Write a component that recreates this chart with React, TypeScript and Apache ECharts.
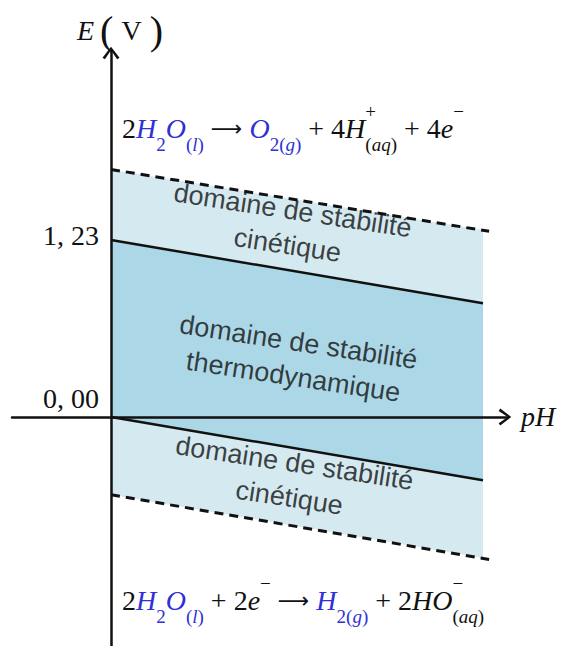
import React, { useEffect, useRef } from 'react';
import * as echarts from 'echarts';

// Water stability lines, E (V) versus pH
const oxygenLine = [[0, 1.23], [14, 0.79]];
const hydrogenLine = [[0, 0], [14, -0.44]];
const upperKineticLine = [[0, 1.72], [14.23, 1.29]];
const lowerKineticLine = [[0, -0.54], [14.23, -0.99]];

// Bands: [pH start, pH end, upper at start, upper at end, lower at start, lower at end]
const kineticBand = [0, 14, 1.72, 1.3, -0.54, -0.98];
const thermoBand = [0, 14, 1.23, 0.79, 0, -0.44];

const tickValues = [0, 1.23];

const domainNames = [
  'domaine de stabilité\ncinétique',
  'domaine de stabilité\nthermodynamique',
  'domaine de stabilité\ncinétique',
];
const domainAnchors = [
  [6.74, 1.315],
  [6.96, 0.4],
  [6.81, -0.44],
];

const SERIF = '"Liberation Serif", "Times New Roman", serif';
const SANS = '"Liberation Sans", Arial, sans-serif';
const INK = '#111111';
const BLUE = '#3030d6';
const CHEVRON = 'path://M10,0 L20,13 L17.2,14.8 L10,4.2 L2.8,14.8 L0,13 Z';

const X_MIN = -3.726;
const X_MAX = 14.941;
const GRID_LEFT = 12;
const GRID_RIGHT = 69;
const WIDTH = 577;

const eqRich = (size: number) => {
  const sub = Math.round(size * 0.68);
  const base = { fontFamily: SERIF, fontSize: size, lineHeight: 52, fill: INK };
  const subBase = { fontFamily: SERIF, fontSize: sub, lineHeight: 40, verticalAlign: 'bottom' };
  const supBase = { fontFamily: SERIF, fontSize: sub, lineHeight: 16, verticalAlign: 'top', fill: INK };
  return {
    n: base,
    ni: { ...base, fontStyle: 'italic' },
    bi: { ...base, fontStyle: 'italic', fill: BLUE },
    ar: { fontFamily: '"DejaVu Sans", sans-serif', fontSize: 22, lineHeight: 52, fill: INK },
    bs: { ...subBase, fill: BLUE },
    bsi: { ...subBase, fill: BLUE, fontStyle: 'italic' },
    ns: { ...subBase, fill: INK },
    nsi: { ...subBase, fill: INK, fontStyle: 'italic' },
    sup: { ...supBase, width: 0 },
    sup2: { ...supBase },
  };
};

const oxidation =
  '{n|2}{bi|H}{bs|2}{bi|O}{bs|(}{bsi|l}{bs|)}{n| }{ar|⟶}{n| }{bi|O}{bs|2(}{bsi|g}{bs|)}{n| + 4}{ni|H}{sup|+}{ns|(}{nsi|aq}{ns|)}{n| + 4}{ni|e}{sup2|−}';
const reduction =
  '{n|2}{bi|H}{bs|2}{bi|O}{bs|(}{bsi|l}{bs|)}{n| + 2}{ni|e}{sup2|−}{n| }{ar|⟶}{n| }{bi|H}{bs|2(}{bsi|g}{bs|)}{n| + 2}{ni|HO}{sup|−}{ns|(}{nsi|aq}{ns|)}';

export default function App() {
  const ref = useRef<HTMLDivElement>(null);

  useEffect(() => {
    document.body.style.margin = '0';
    const chart = echarts.init(ref.current!, null, { renderer: 'svg' });

    const bandColors = ['#d5e9f0', '#acd7e6'];
    const axisLine = (onZero: boolean) => ({
      onZero,
      symbol: ['none', CHEVRON],
      symbolSize: [17, 14],
      symbolOffset: [0, -3],
      lineStyle: { color: INK, width: 2.5 },
    });

    // y labels sit beside the vertical axis drawn at pH = 0, not at the grid edge
    const plotWidth = WIDTH - GRID_LEFT - GRID_RIGHT;
    const zeroShift = ((0 - X_MIN) / (X_MAX - X_MIN)) * plotWidth;

    chart.setOption({
      animation: false,
      grid: { left: GRID_LEFT, right: GRID_RIGHT, top: 50, bottom: 0, containLabel: false, outerBoundsMode: 'none' },
      xAxis: {
        type: 'value',
        min: X_MIN,
        max: X_MAX,
        z: 10,
        axisLine: axisLine(true),
        axisTick: { show: false },
        axisLabel: { show: false },
        splitLine: { show: false },
      },
      yAxis: {
        type: 'value',
        min: -1.591,
        max: 2.55,
        z: 10,
        axisLine: axisLine(true),
        axisTick: { show: false },
        splitLine: { show: false },
        axisLabel: {
          customValues: tickValues,
          margin: 12 - zeroShift,
          formatter: (v: number) =>
            v === 0 ? `{z|${v.toFixed(2).replace('.', ', ')}}` : `{o|${v.toFixed(2).replace('.', ', ')}}`,
          rich: {
            z: { fontFamily: SERIF, fontSize: 28, color: INK, padding: [0, 0, 38, 0] },
            o: { fontFamily: SERIF, fontSize: 28, color: INK, padding: [0, 0, 8, 0] },
          },
        },
      },
      series: [
        {
          type: 'custom',
          data: [kineticBand, thermoBand],
          renderItem: (params: any, api: any) => {
            const x0 = api.value(0);
            const x1 = api.value(1);
            const points = [
              api.coord([x0, api.value(2)]),
              api.coord([x1, api.value(3)]),
              api.coord([x1, api.value(5)]),
              api.coord([x0, api.value(4)]),
            ];
            return {
              type: 'polygon',
              shape: { points },
              style: { fill: bandColors[params.dataIndex] },
            };
          },
          z: 1,
        },
        ...[oxygenLine, hydrogenLine].map((d) => ({
          type: 'line',
          data: d,
          symbol: 'none',
          z: 3,
          lineStyle: { color: INK, width: 2.5 },
        })),
        ...[upperKineticLine, lowerKineticLine].map((d) => ({
          type: 'line',
          data: d,
          symbol: 'none',
          z: 3,
          lineStyle: { color: INK, width: 3, type: [9, 6] },
        })),
        {
          type: 'scatter',
          symbolSize: 0,
          z: 4,
          data: domainNames.map((name, i) => ({ name, value: domainAnchors[i] })),
          label: {
            show: true,
            position: 'inside',
            formatter: (p: any) => p.name,
            rotate: -8.6,
            fontFamily: SANS,
            fontSize: 27,
            lineHeight: 35,
            color: INK,
            align: 'center',
          },
        },
      ],
      graphic: [
        {
          type: 'text',
          style: { x: 122, y: 102, text: oxidation, rich: eqRich(28), verticalAlign: 'top' },
        },
        {
          type: 'text',
          style: { x: 122, y: 574, text: reduction, rich: eqRich(28), verticalAlign: 'top' },
        },
        {
          type: 'text',
          style: {
            x: 77,
            y: 30,
            verticalAlign: 'middle',
            text: '{e|E}{p|(}{v|V}{p|)}',
            rich: {
              e: { fontFamily: SERIF, fontSize: 28, fontStyle: 'italic', fill: INK, padding: [0, 6, 0, 0] },
              v: { fontFamily: SERIF, fontSize: 28, fill: INK, padding: [0, 8, 0, 8] },
              p: { fontFamily: SERIF, fontSize: 40, fill: INK },
            },
          },
        },
        {
          type: 'text',
          style: {
            x: 521,
            y: 416,
            verticalAlign: 'middle',
            text: 'pH',
            fontFamily: SERIF,
            fontSize: 28,
            fontStyle: 'italic',
            fill: INK,
          },
        },
      ],
    });

    return () => chart.dispose();
  }, []);

  return <div ref={ref} style={{ width: 577, height: 646 }} />;
}
